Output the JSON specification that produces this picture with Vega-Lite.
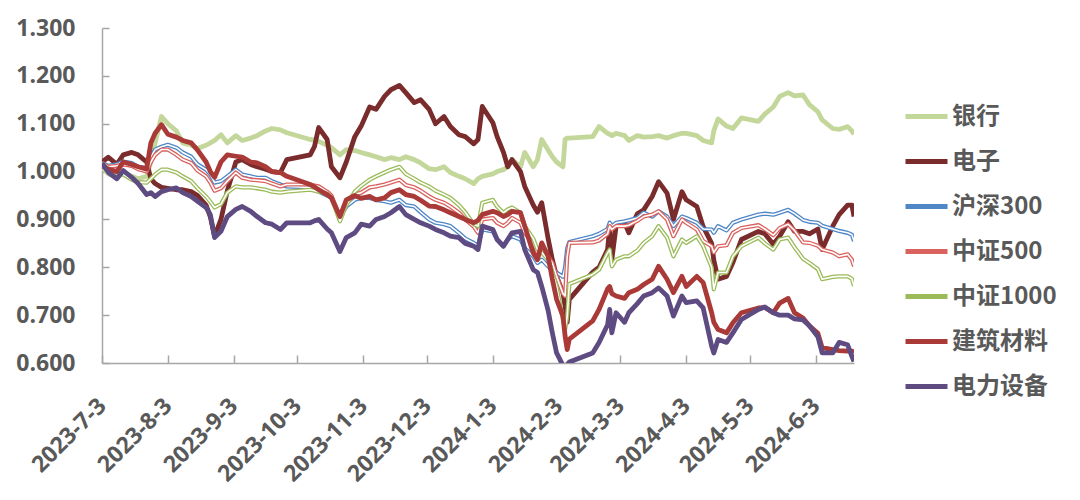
{
  "$schema": "https://vega.github.io/schema/vega-lite/v6.json",
  "width": 752,
  "height": 335,
  "autosize": {"type": "none"},
  "padding": {"left": 102, "top": 28, "right": 226, "bottom": 137},
  "background": "white",
  "config": {
    "view": {"stroke": null},
    "axis": {
      "grid": false,
      "title": null,
      "domain": true,
      "ticks": true,
      "domainColor": "#A6A6A6",
      "domainWidth": 1.5,
      "tickColor": "#A6A6A6",
      "tickWidth": 1.5,
      "labelFont": "Open Sans",
      "labelFontSize": 23,
      "labelFontWeight": "bold",
      "labelColor": "#595959"
    },
    "legend": {
      "orient": "none",
      "legendX": 801,
      "legendY": 65,
      "title": null,
      "symbolType": "stroke",
      "symbolSize": 1764,
      "symbolStrokeWidth": 5,
      "labelFont": "Noto Sans CJK SC",
      "labelFontSize": 24,
      "labelFontWeight": "bold",
      "labelColor": "#595959",
      "rowPadding": 9,
      "labelOffset": 2
    }
  },
  "data": {
    "values": [
      {"d":"2023-07-03","银行":1.010,"电子":1.020,"沪深300":1.018,"中证500":1.018,"中证1000":1.018,"建筑材料":1.012,"电力设备":1.018},
      {"d":"2023-07-06","银行":0.995,"电子":1.030,"沪深300":1.012,"中证500":1.010,"中证1000":1.005,"建筑材料":1.005,"电力设备":0.998},
      {"d":"2023-07-10","银行":0.990,"电子":1.015,"沪深300":1.015,"中证500":1.012,"中证1000":0.998,"建筑材料":1.000,"电力设备":0.985},
      {"d":"2023-07-13","银行":0.995,"电子":1.035,"沪深300":1.021,"中证500":1.015,"中证1000":0.994,"建筑材料":1.020,"电力设备":1.002},
      {"d":"2023-07-17","银行":0.990,"电子":1.040,"沪深300":1.018,"中证500":1.012,"中证1000":0.983,"建筑材料":1.015,"电力设备":0.988},
      {"d":"2023-07-20","银行":0.985,"电子":1.035,"沪深300":1.010,"中证500":1.005,"中证1000":0.978,"建筑材料":1.010,"电力设备":0.975},
      {"d":"2023-07-24","银行":0.990,"电子":1.020,"沪深300":1.008,"中证500":1.000,"中证1000":0.977,"建筑材料":1.005,"电力设备":0.952},
      {"d":"2023-07-26","银行":1.020,"电子":0.985,"沪深300":1.030,"中证500":1.020,"中证1000":0.985,"建筑材料":1.060,"电力设备":0.956},
      {"d":"2023-07-28","银行":1.060,"电子":0.975,"沪深300":1.046,"中证500":1.035,"中证1000":0.994,"建筑材料":1.080,"电力设备":0.948},
      {"d":"2023-07-31","银行":1.115,"电子":0.967,"沪深300":1.052,"中证500":1.046,"中证1000":1.004,"建筑材料":1.098,"电力设备":0.958},
      {"d":"2023-08-03","银行":1.100,"电子":0.965,"沪深300":1.056,"中证500":1.046,"中证1000":1.004,"建筑材料":1.078,"电力设备":0.962},
      {"d":"2023-08-07","银行":1.085,"电子":0.962,"沪深300":1.050,"中证500":1.035,"中证1000":0.998,"建筑材料":1.072,"电力设备":0.966},
      {"d":"2023-08-10","银行":1.060,"电子":0.962,"沪深300":1.040,"中证500":1.025,"中证1000":0.990,"建筑材料":1.065,"电力设备":0.956},
      {"d":"2023-08-14","银行":1.055,"电子":0.958,"沪深300":1.031,"中证500":1.018,"中证1000":0.980,"建筑材料":1.060,"电力设备":0.948},
      {"d":"2023-08-17","银行":1.048,"电子":0.950,"沪深300":1.015,"中证500":1.002,"中证1000":0.965,"建筑材料":1.045,"电力设备":0.938},
      {"d":"2023-08-21","银行":1.055,"电子":0.930,"沪深300":1.004,"中证500":0.990,"中证1000":0.948,"建筑材料":1.020,"电力设备":0.925},
      {"d":"2023-08-23","银行":1.060,"电子":0.905,"沪深300":0.994,"中证500":0.977,"中证1000":0.937,"建筑材料":1.000,"电力设备":0.910},
      {"d":"2023-08-25","银行":1.065,"电子":0.865,"沪深300":0.977,"中证500":0.960,"中证1000":0.925,"建筑材料":0.988,"电力设备":0.862},
      {"d":"2023-08-28","银行":1.077,"电子":0.900,"沪深300":0.980,"中证500":0.965,"中证1000":0.932,"建筑材料":1.020,"电力设备":0.875},
      {"d":"2023-08-31","银行":1.060,"电子":0.960,"沪深300":0.990,"中证500":0.980,"中证1000":0.956,"建筑材料":1.035,"电力设备":0.906},
      {"d":"2023-09-04","银行":1.075,"电子":1.020,"沪深300":1.004,"中证500":0.998,"中证1000":0.969,"建筑材料":1.032,"电力设备":0.921},
      {"d":"2023-09-07","银行":1.065,"电子":1.025,"沪深300":0.994,"中证500":0.987,"中证1000":0.967,"建筑材料":1.030,"电力设备":0.927},
      {"d":"2023-09-11","银行":1.070,"电子":1.015,"沪深300":0.990,"中证500":0.983,"中证1000":0.967,"建筑材料":1.020,"电力设备":0.917},
      {"d":"2023-09-14","银行":1.075,"电子":1.010,"沪深300":0.987,"中证500":0.982,"中证1000":0.965,"建筑材料":1.018,"电力设备":0.906},
      {"d":"2023-09-18","银行":1.085,"电子":1.005,"沪深300":0.987,"中证500":0.980,"中证1000":0.962,"建筑材料":1.010,"电力设备":0.893},
      {"d":"2023-09-21","银行":1.090,"电子":1.000,"沪深300":0.980,"中证500":0.975,"中证1000":0.958,"建筑材料":1.000,"电力设备":0.890},
      {"d":"2023-09-25","银行":1.087,"电子":0.998,"沪深300":0.973,"中证500":0.969,"中证1000":0.956,"建筑材料":0.998,"电力设备":0.879},
      {"d":"2023-09-28","银行":1.081,"电子":1.025,"沪深300":0.969,"中证500":0.973,"中证1000":0.958,"建筑材料":0.990,"电力设备":0.893},
      {"d":"2023-10-09","银行":1.067,"电子":1.035,"沪深300":0.967,"中证500":0.973,"中证1000":0.962,"建筑材料":0.973,"电力设备":0.893},
      {"d":"2023-10-11","银行":1.066,"电子":1.052,"沪深300":0.962,"中证500":0.971,"中证1000":0.960,"建筑材料":0.968,"电力设备":0.897},
      {"d":"2023-10-13","银行":1.063,"电子":1.092,"沪深300":0.958,"中证500":0.969,"中证1000":0.958,"建筑材料":0.962,"电力设备":0.900},
      {"d":"2023-10-17","银行":1.055,"电子":1.067,"沪深300":0.950,"中证500":0.958,"中证1000":0.954,"建筑材料":0.952,"电力设备":0.880},
      {"d":"2023-10-19","银行":1.050,"电子":1.010,"沪深300":0.945,"中证500":0.950,"中证1000":0.945,"建筑材料":0.945,"电力设备":0.872},
      {"d":"2023-10-23","银行":1.035,"电子":0.987,"沪深300":0.906,"中证500":0.906,"中证1000":0.896,"建筑材料":0.906,"电力设备":0.833},
      {"d":"2023-10-26","银行":1.046,"电子":1.020,"沪深300":0.927,"中证500":0.935,"中证1000":0.930,"建筑材料":0.941,"电力设备":0.862},
      {"d":"2023-10-30","银行":1.044,"电子":1.073,"沪深300":0.941,"中证500":0.952,"中证1000":0.958,"建筑材料":0.950,"电力设备":0.872},
      {"d":"2023-11-02","银行":1.040,"电子":1.095,"沪深300":0.945,"中证500":0.956,"中证1000":0.970,"建筑材料":0.944,"电力设备":0.890},
      {"d":"2023-11-06","银行":1.035,"电子":1.135,"沪深300":0.945,"中证500":0.967,"中证1000":0.983,"建筑材料":0.948,"电力设备":0.886},
      {"d":"2023-11-09","银行":1.031,"电子":1.130,"沪深300":0.941,"中证500":0.969,"中证1000":0.990,"建筑材料":0.941,"电力设备":0.900},
      {"d":"2023-11-13","银行":1.025,"电子":1.157,"沪深300":0.938,"中证500":0.973,"中证1000":0.998,"建筑材料":0.945,"电力设备":0.906},
      {"d":"2023-11-16","银行":1.029,"电子":1.171,"沪深300":0.935,"中证500":0.977,"中证1000":1.004,"建筑材料":0.956,"电力设备":0.914},
      {"d":"2023-11-20","银行":1.025,"电子":1.180,"沪深300":0.941,"中证500":0.983,"中证1000":1.010,"建筑材料":0.962,"电力设备":0.927},
      {"d":"2023-11-23","银行":1.031,"电子":1.165,"沪深300":0.930,"中证500":0.972,"中证1000":0.995,"建筑材料":0.952,"电力设备":0.910},
      {"d":"2023-11-27","银行":1.025,"电子":1.144,"沪深300":0.927,"中证500":0.967,"中证1000":0.985,"建筑材料":0.948,"电力设备":0.900},
      {"d":"2023-11-30","银行":1.018,"电子":1.150,"沪深300":0.915,"中证500":0.960,"中证1000":0.977,"建筑材料":0.940,"电力设备":0.893},
      {"d":"2023-12-04","银行":1.006,"电子":1.130,"沪深300":0.900,"中证500":0.948,"中证1000":0.969,"建筑材料":0.928,"电力设备":0.886},
      {"d":"2023-12-07","银行":1.004,"电子":1.100,"沪深300":0.893,"中证500":0.941,"中证1000":0.960,"建筑材料":0.927,"电力设备":0.879},
      {"d":"2023-12-11","银行":1.010,"电子":1.115,"沪深300":0.890,"中证500":0.935,"中证1000":0.952,"建筑材料":0.920,"电力设备":0.872},
      {"d":"2023-12-14","银行":0.998,"电子":1.094,"沪深300":0.886,"中证500":0.927,"中证1000":0.945,"建筑材料":0.914,"电力设备":0.865},
      {"d":"2023-12-18","银行":0.990,"电子":1.077,"沪深300":0.872,"中证500":0.914,"中证1000":0.930,"建筑材料":0.906,"电力设备":0.862},
      {"d":"2023-12-21","银行":0.985,"电子":1.073,"沪深300":0.860,"中证500":0.900,"中证1000":0.915,"建筑材料":0.900,"电力设备":0.850},
      {"d":"2023-12-25","银行":0.975,"电子":1.058,"沪深300":0.851,"中证500":0.885,"中证1000":0.890,"建筑材料":0.893,"电力设备":0.844},
      {"d":"2023-12-27","银行":0.985,"电子":1.067,"沪深300":0.844,"中证500":0.872,"中证1000":0.886,"建筑材料":0.898,"电力设备":0.837},
      {"d":"2023-12-29","银行":0.990,"电子":1.136,"沪深300":0.879,"中证500":0.900,"中证1000":0.935,"建筑材料":0.910,"电力设备":0.886},
      {"d":"2024-01-03","银行":0.995,"电子":1.102,"沪深300":0.875,"中证500":0.903,"中证1000":0.941,"建筑材料":0.917,"电力设备":0.879},
      {"d":"2024-01-05","银行":1.000,"电子":1.073,"沪深300":0.858,"中证500":0.893,"中证1000":0.927,"建筑材料":0.914,"电力设备":0.858},
      {"d":"2024-01-08","银行":1.004,"电子":1.040,"沪深300":0.844,"中证500":0.886,"中证1000":0.914,"建筑材料":0.906,"电力设备":0.844},
      {"d":"2024-01-10","银行":1.010,"电子":1.010,"沪深300":0.858,"中证500":0.893,"中证1000":0.921,"建筑材料":0.910,"电力设备":0.858},
      {"d":"2024-01-12","银行":1.025,"电子":1.025,"沪深300":0.865,"中证500":0.903,"中证1000":0.925,"建筑材料":0.917,"电力设备":0.872},
      {"d":"2024-01-16","银行":1.010,"电子":1.000,"沪深300":0.858,"中证500":0.893,"中证1000":0.914,"建筑材料":0.914,"电力设备":0.875},
      {"d":"2024-01-18","银行":1.040,"电子":0.969,"沪深300":0.840,"中证500":0.872,"中证1000":0.886,"建筑材料":0.886,"电力设备":0.837},
      {"d":"2024-01-22","银行":1.010,"电子":0.930,"沪深300":0.823,"中证500":0.850,"中证1000":0.860,"建筑材料":0.830,"电力设备":0.795},
      {"d":"2024-01-24","银行":1.025,"电子":0.915,"沪深300":0.809,"中证500":0.831,"中证1000":0.837,"建筑材料":0.816,"电力设备":0.789},
      {"d":"2024-01-26","银行":1.067,"电子":0.935,"沪深300":0.816,"中证500":0.837,"中证1000":0.831,"建筑材料":0.851,"电力设备":0.760},
      {"d":"2024-01-29","银行":1.045,"电子":0.860,"沪深300":0.802,"中证500":0.823,"中证1000":0.816,"建筑材料":0.823,"电力设备":0.710},
      {"d":"2024-01-31","银行":1.031,"电子":0.816,"沪深300":0.795,"中证500":0.809,"中证1000":0.789,"建筑材料":0.775,"电力设备":0.663},
      {"d":"2024-02-02","银行":1.020,"电子":0.781,"沪深300":0.789,"中证500":0.781,"中证1000":0.760,"建筑材料":0.733,"电力设备":0.621},
      {"d":"2024-02-05","银行":1.010,"电子":0.747,"沪深300":0.780,"中证500":0.745,"中证1000":0.690,"建筑材料":0.698,"电力设备":0.595},
      {"d":"2024-02-06","银行":1.067,"电子":0.719,"沪深300":0.800,"中证500":0.740,"中证1000":0.670,"建筑材料":0.656,"电力设备":0.593},
      {"d":"2024-02-07","银行":1.070,"电子":0.685,"沪深300":0.840,"中证500":0.823,"中证1000":0.698,"建筑材料":0.628,"电力设备":0.597},
      {"d":"2024-02-08","银行":1.070,"电子":0.733,"沪深300":0.853,"中证500":0.851,"中证1000":0.765,"建筑材料":0.650,"电力设备":0.602},
      {"d":"2024-02-19","银行":1.073,"电子":0.790,"沪深300":0.865,"中证500":0.852,"中证1000":0.785,"建筑材料":0.688,"电力设备":0.621},
      {"d":"2024-02-22","银行":1.094,"电子":0.800,"沪深300":0.870,"中证500":0.856,"中证1000":0.795,"建筑材料":0.712,"电力设备":0.643},
      {"d":"2024-02-26","银行":1.080,"电子":0.837,"沪深300":0.880,"中证500":0.870,"中证1000":0.830,"建筑材料":0.755,"电力设备":0.680},
      {"d":"2024-02-27","银行":1.078,"电子":0.886,"沪深300":0.893,"中证500":0.886,"中证1000":0.837,"建筑材料":0.760,"电力设备":0.712},
      {"d":"2024-02-28","银行":1.075,"电子":0.816,"沪深300":0.886,"中证500":0.879,"中证1000":0.802,"建筑材料":0.745,"电力设备":0.663},
      {"d":"2024-03-01","银行":1.080,"电子":0.886,"沪深300":0.893,"中证500":0.886,"中证1000":0.816,"建筑材料":0.740,"电力设备":0.705},
      {"d":"2024-03-05","银行":1.075,"电子":0.893,"沪深300":0.896,"中证500":0.886,"中证1000":0.823,"建筑材料":0.735,"电力设备":0.685},
      {"d":"2024-03-07","银行":1.065,"电子":0.872,"沪深300":0.898,"中证500":0.888,"中证1000":0.823,"建筑材料":0.747,"电力设备":0.705},
      {"d":"2024-03-11","银行":1.075,"电子":0.912,"沪深300":0.903,"中证500":0.897,"中证1000":0.835,"建筑材料":0.754,"电力设备":0.724},
      {"d":"2024-03-14","银行":1.072,"电子":0.920,"沪深300":0.914,"中证500":0.906,"中证1000":0.851,"建筑材料":0.764,"电力设备":0.740},
      {"d":"2024-03-18","银行":1.073,"电子":0.948,"沪深300":0.906,"中证500":0.910,"中证1000":0.865,"建筑材料":0.775,"电力设备":0.747},
      {"d":"2024-03-21","银行":1.075,"电子":0.979,"沪深300":0.917,"中证500":0.917,"中证1000":0.886,"建筑材料":0.802,"电力设备":0.757},
      {"d":"2024-03-25","银行":1.070,"电子":0.955,"沪深300":0.906,"中证500":0.900,"中证1000":0.862,"建筑材料":0.775,"电力设备":0.740},
      {"d":"2024-03-28","银行":1.075,"电子":0.900,"沪深300":0.886,"中证500":0.865,"中证1000":0.823,"建筑材料":0.747,"电力设备":0.698},
      {"d":"2024-04-01","银行":1.080,"电子":0.958,"沪深300":0.906,"中证500":0.900,"中证1000":0.858,"建筑材料":0.781,"电力设备":0.740},
      {"d":"2024-04-03","银行":1.080,"电子":0.941,"沪深300":0.903,"中证500":0.893,"中证1000":0.851,"建筑材料":0.760,"电力设备":0.726},
      {"d":"2024-04-08","银行":1.075,"电子":0.927,"沪深300":0.893,"中证500":0.879,"中证1000":0.865,"建筑材料":0.781,"电力设备":0.730},
      {"d":"2024-04-11","银行":1.065,"电子":0.885,"沪深300":0.880,"中证500":0.855,"中证1000":0.844,"建筑材料":0.768,"电力设备":0.715},
      {"d":"2024-04-15","银行":1.060,"电子":0.850,"沪深300":0.879,"中证500":0.844,"中证1000":0.800,"建筑材料":0.705,"电力设备":0.635},
      {"d":"2024-04-16","银行":1.085,"电子":0.815,"沪深300":0.872,"中证500":0.831,"中证1000":0.754,"建筑材料":0.685,"电力设备":0.621},
      {"d":"2024-04-18","银行":1.110,"电子":0.775,"沪深300":0.886,"中证500":0.844,"中证1000":0.789,"建筑材料":0.670,"电力设备":0.649},
      {"d":"2024-04-22","银行":1.095,"电子":0.781,"沪深300":0.877,"中证500":0.846,"中证1000":0.789,"建筑材料":0.663,"电力设备":0.643},
      {"d":"2024-04-25","银行":1.090,"电子":0.810,"沪深300":0.893,"中证500":0.872,"中证1000":0.823,"建筑材料":0.684,"电力设备":0.663},
      {"d":"2024-04-29","银行":1.112,"电子":0.858,"沪深300":0.900,"中证500":0.882,"中证1000":0.844,"建筑材料":0.705,"电力设备":0.691},
      {"d":"2024-05-07","银行":1.105,"电子":0.875,"沪深300":0.910,"中证500":0.888,"中证1000":0.862,"建筑材料":0.715,"电力设备":0.712},
      {"d":"2024-05-10","银行":1.120,"电子":0.870,"沪深300":0.912,"中证500":0.880,"中证1000":0.850,"建筑材料":0.716,"电力设备":0.717},
      {"d":"2024-05-14","银行":1.135,"电子":0.848,"沪深300":0.910,"中证500":0.867,"中证1000":0.837,"建筑材料":0.705,"电力设备":0.705},
      {"d":"2024-05-17","银行":1.157,"电子":0.865,"沪深300":0.914,"中证500":0.882,"中证1000":0.858,"建筑材料":0.725,"电力设备":0.700},
      {"d":"2024-05-21","银行":1.165,"电子":0.895,"沪深300":0.920,"中证500":0.890,"中证1000":0.862,"建筑材料":0.735,"电力设备":0.700},
      {"d":"2024-05-24","银行":1.158,"电子":0.875,"沪深300":0.912,"中证500":0.877,"中证1000":0.842,"建筑材料":0.705,"电力设备":0.692},
      {"d":"2024-05-28","银行":1.160,"电子":0.875,"沪深300":0.899,"中证500":0.852,"中证1000":0.818,"建筑材料":0.694,"电力设备":0.690},
      {"d":"2024-05-31","银行":1.140,"电子":0.870,"沪深300":0.895,"中证500":0.851,"中证1000":0.809,"建筑材料":0.678,"电力设备":0.678},
      {"d":"2024-06-04","银行":1.125,"电子":0.880,"沪深300":0.893,"中证500":0.845,"中证1000":0.796,"建筑材料":0.662,"电力设备":0.655},
      {"d":"2024-06-06","银行":1.108,"电子":0.837,"沪深300":0.887,"中证500":0.837,"中证1000":0.775,"建筑材料":0.632,"电力设备":0.621},
      {"d":"2024-06-11","银行":1.090,"电子":0.886,"沪深300":0.880,"中证500":0.831,"中证1000":0.780,"建筑材料":0.628,"电力设备":0.621},
      {"d":"2024-06-14","银行":1.088,"电子":0.910,"沪深300":0.876,"中证500":0.823,"中证1000":0.781,"建筑材料":0.626,"电力设备":0.643},
      {"d":"2024-06-18","银行":1.094,"电子":0.930,"沪深300":0.872,"中证500":0.827,"中证1000":0.781,"建筑材料":0.625,"电力设备":0.638},
      {"d":"2024-06-20","银行":1.085,"电子":0.930,"沪深300":0.868,"中证500":0.816,"中证1000":0.776,"建筑材料":0.625,"电力设备":0.614},
      {"d":"2024-06-21","银行":1.078,"电子":0.906,"沪深300":0.855,"中证500":0.802,"中证1000":0.761,"建筑材料":0.622,"电力设备":0.603}
    ]
  },
  "transform": [
    {"fold": ["银行", "电子", "沪深300", "中证500", "中证1000", "建筑材料", "电力设备"], "as": ["s", "v"]}
  ],
  "encoding": {
    "x": {
      "field": "d",
      "type": "temporal",
      "scale": {
        "type": "utc",
        "domain": [
          {"year": 2023, "month": 7, "date": 3, "utc": true},
          {"year": 2024, "month": 6, "date": 21, "utc": true}
        ]
      },
      "axis": {
        "values": [
          {"year": 2023, "month": 7, "date": 3, "utc": true},
          {"year": 2023, "month": 8, "date": 3, "utc": true},
          {"year": 2023, "month": 9, "date": 3, "utc": true},
          {"year": 2023, "month": 10, "date": 3, "utc": true},
          {"year": 2023, "month": 11, "date": 3, "utc": true},
          {"year": 2023, "month": 12, "date": 3, "utc": true},
          {"year": 2024, "month": 1, "date": 3, "utc": true},
          {"year": 2024, "month": 2, "date": 3, "utc": true},
          {"year": 2024, "month": 3, "date": 3, "utc": true},
          {"year": 2024, "month": 4, "date": 3, "utc": true},
          {"year": 2024, "month": 5, "date": 3, "utc": true},
          {"year": 2024, "month": 6, "date": 3, "utc": true}
        ],
        "labelExpr": "utcFormat(datum.value, '%Y-%-m-%-d')",
        "labelAngle": -45,
        "labelAlign": "right",
        "labelBaseline": "middle",
        "tickSize": -8,
        "labelPadding": 47,
        "labelOverlap": false,
        "labelFlush": false
      }
    },
    "y": {
      "field": "v",
      "type": "quantitative",
      "scale": {"domain": [0.6, 1.3], "zero": false, "nice": false},
      "axis": {
        "values": [0.6, 0.7, 0.8, 0.9, 1.0, 1.1, 1.2, 1.3],
        "format": ".3f",
        "tickSize": -7,
        "labelPadding": 34,
        "labelFlush": false
      }
    }
  },
  "layer": [
    {
      "transform": [{"filter": {"field": "s", "oneOf": ["银行", "电子", "沪深300"]}}],
      "mark": {"type": "line", "clip": true, "strokeJoin": "round"},
      "encoding": {
        "color": {
          "field": "s",
          "type": "nominal",
          "scale": {
            "domain": ["银行", "电子", "沪深300", "中证500", "中证1000", "建筑材料", "电力设备"],
            "range": ["#C4D79B", "#7A2B2B", "#4F86C6", "#D9625E", "#9BBB59", "#AA3A37", "#5E4B82"]
          }
        },
        "strokeWidth": {
          "condition": {"test": "datum.s === '沪深300'", "value": 4.2},
          "value": 4.8
        }
      }
    },
    {
      "transform": [{"filter": {"field": "s", "equal": "沪深300"}}],
      "mark": {"type": "line", "clip": true, "strokeWidth": 1.6, "color": "white", "strokeJoin": "round"},
      "encoding": {}
    },
    {
      "transform": [{"filter": {"field": "s", "equal": "中证500"}}],
      "mark": {"type": "line", "clip": true, "strokeWidth": 4.2, "strokeJoin": "round"},
      "encoding": {
        "color": {"field": "s", "type": "nominal", "scale": {
            "domain": ["银行", "电子", "沪深300", "中证500", "中证1000", "建筑材料", "电力设备"],
            "range": ["#C4D79B", "#7A2B2B", "#4F86C6", "#D9625E", "#9BBB59", "#AA3A37", "#5E4B82"]
          }}
      }
    },
    {
      "transform": [{"filter": {"field": "s", "equal": "中证500"}}],
      "mark": {"type": "line", "clip": true, "strokeWidth": 1.6, "color": "white", "strokeJoin": "round"},
      "encoding": {}
    },
    {
      "transform": [{"filter": {"field": "s", "equal": "中证1000"}}],
      "mark": {"type": "line", "clip": true, "strokeWidth": 4.2, "strokeJoin": "round"},
      "encoding": {
        "color": {"field": "s", "type": "nominal", "scale": {
            "domain": ["银行", "电子", "沪深300", "中证500", "中证1000", "建筑材料", "电力设备"],
            "range": ["#C4D79B", "#7A2B2B", "#4F86C6", "#D9625E", "#9BBB59", "#AA3A37", "#5E4B82"]
          }}
      }
    },
    {
      "transform": [{"filter": {"field": "s", "equal": "中证1000"}}],
      "mark": {"type": "line", "clip": true, "strokeWidth": 1.6, "color": "white", "strokeJoin": "round"},
      "encoding": {}
    },
    {
      "transform": [{"filter": {"field": "s", "oneOf": ["建筑材料", "电力设备"]}}],
      "mark": {"type": "line", "clip": true, "strokeWidth": 4.8, "strokeJoin": "round"},
      "encoding": {
        "color": {"field": "s", "type": "nominal", "scale": {
            "domain": ["银行", "电子", "沪深300", "中证500", "中证1000", "建筑材料", "电力设备"],
            "range": ["#C4D79B", "#7A2B2B", "#4F86C6", "#D9625E", "#9BBB59", "#AA3A37", "#5E4B82"]
          }}
      }
    }
  ]
}
